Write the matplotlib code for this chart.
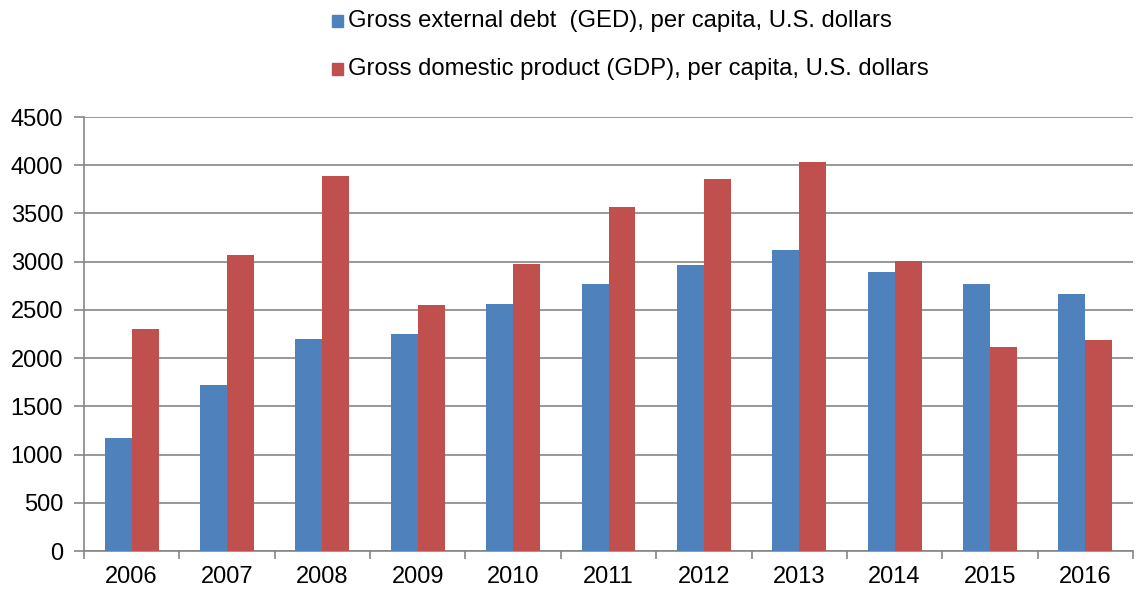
import matplotlib
matplotlib.use("Agg")
import matplotlib.pyplot as plt
import numpy as np
from matplotlib.patches import Rectangle

years = ["2006", "2007", "2008", "2009", "2010", "2011", "2012", "2013", "2014", "2015", "2016"]
ged = [1170, 1720, 2200, 2250, 2560, 2765, 2965, 3125, 2890, 2770, 2665]
gdp = [2300, 3070, 3890, 2550, 2975, 3570, 3860, 4030, 3010, 2115, 2185]
labels = ["Gross external debt  (GED), per capita, U.S. dollars",
          "Gross domestic product (GDP), per capita, U.S. dollars"]
colors = ["#4F81BD", "#C0504D"]

plt.rcParams['font.family'] = ['Liberation Sans', 'DejaVu Sans']

W, H = 1137, 590
fig = plt.figure(figsize=(W/100, H/100), dpi=100)
ax = fig.add_axes([84/W, (H-551)/H, (1133-84)/W, (551-117)/H])

x = np.arange(len(years))
bw = 0.283
ax.bar(x - bw/2, ged, width=bw, color=colors[0], zorder=3)
ax.bar(x + bw/2, gdp, width=bw, color=colors[1], zorder=3)

ax.set_xlim(-0.5, len(years) - 0.5)
ax.set_ylim(0, 4500)
ax.set_yticks(np.arange(0, 4501, 500))
ax.yaxis.grid(True, color="#868686", linewidth=1.2, zorder=0)
ax.set_xticks(x)
ax.set_xticklabels(years)
ax.set_xticks(np.arange(-0.5, len(years), 1), minor=True)
ax.tick_params(axis='x', which='major', length=0, pad=11, labelsize=17)
ax.tick_params(axis='x', which='minor', length=6, color="#868686", width=1.2)
ax.tick_params(axis='y', length=7, color="#868686", width=1.2, labelsize=17, pad=8)
for s in ["top", "right"]:
    ax.spines[s].set_visible(False)
for s in ["left", "bottom"]:
    ax.spines[s].set_color("#868686")
    ax.spines[s].set_linewidth(1.2)

# legend
for i, (lab, c) in enumerate(zip(labels, colors)):
    yc = 21 + 48 * i
    fig.patches.append(Rectangle((332/W, (H - yc - 6)/H), 11/W, 12/H,
                                 transform=fig.transFigure, color=c))
    fig.text(348/W, (H - yc)/H, lab, fontsize=17.2, va='center', ha='left')

fig.savefig("out.png", dpi=100)
